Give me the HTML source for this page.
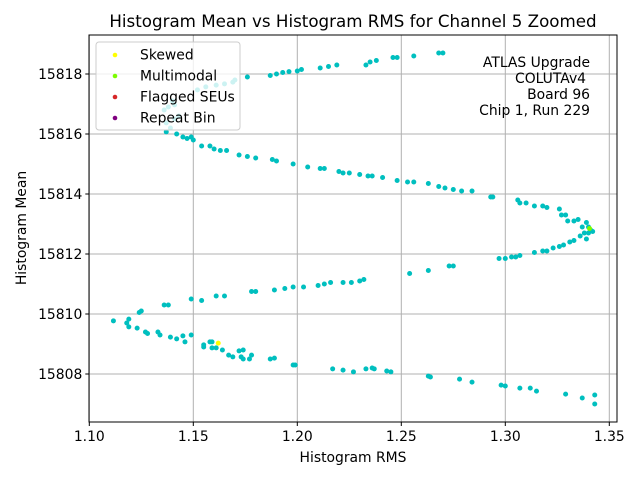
<!DOCTYPE html>
<html><head><meta charset="utf-8"><style>
body{margin:0;background:#fff;}
svg{font-family:"DejaVu Sans","Liberation Sans",sans-serif;}
</style></head><body>
<svg id="chart" width="640" height="480" viewBox="0 0 640 480">
<text x="353" y="27" font-size="16.7" text-anchor="middle">Histogram Mean vs Histogram RMS for Channel 5 Zoomed</text>
<g id="grid"></g>
<g id="points"></g>
<rect x="89" y="35" width="528" height="387" fill="none" stroke="#000" stroke-width="1"/>
<g id="ticks"></g>
<text x="353" y="462" font-size="13.9" text-anchor="middle">Histogram RMS</text>
<text x="26" y="228" font-size="13.9" text-anchor="middle" transform="rotate(-90 26 228)">Histogram Mean</text>
<g>
<rect x="96" y="42" width="144" height="88" rx="3" fill="#fff" fill-opacity="0.8" stroke="#ccc"/>
<g><circle cx="115" cy="55" r="2.3" fill="#ffff00"/><text x="140" y="59.5" font-size="13.9">Skewed</text></g>
<g><circle cx="115" cy="76" r="2.3" fill="#7cfc00"/><text x="140" y="80.5" font-size="13.9">Multimodal</text></g>
<g><circle cx="115" cy="97" r="2.3" fill="#d62728"/><text x="140" y="101.5" font-size="13.9">Flagged SEUs</text></g>
<g><circle cx="115" cy="118" r="2.3" fill="#800080"/><text x="140" y="122.5" font-size="13.9">Repeat Bin</text></g>
</g>
<g font-size="13.9" text-anchor="end">
<text x="590" y="67">ATLAS Upgrade</text>
<text x="586" y="83">COLUTAv4</text>
<text x="590" y="99">Board 96</text>
<text x="590" y="115">Chip 1, Run 229</text>
</g>
</svg>
<script>
const xTicks=[1.10,1.15,1.20,1.25,1.30,1.35];
const yTicks=[15808,15810,15812,15814,15816,15818];
const normalX=[1.169,1.165,1.161,1.156,1.152,1.141,1.138,1.136,1.137,1.137,1.14,1.143,1.139,1.141,
1.17,1.176,1.187,1.19,1.193,1.196,1.2,1.202,1.211,1.215,1.219,1.233,1.235,1.238,1.246,1.248,1.256,1.268,1.27,
1.142,1.145,1.147,1.149,1.15,1.154,1.158,1.16,1.163,1.166,1.172,1.176,1.18,1.188,1.19,1.198,1.205,1.211,1.213,1.22,1.222,1.225,1.23,1.234,1.236,1.241,1.248,1.253,1.256,1.263,1.268,1.271,1.275,1.279,1.284,1.293,1.294,1.306,1.307,1.31,1.314,1.318,1.32,1.326,1.327,1.329,1.33,1.333,1.335,1.337,1.339,1.34,1.341,1.338,1.34,1.342,1.339,
1.336,1.333,1.331,1.328,1.326,1.323,1.32,1.318,1.314,1.307,1.305,1.303,1.297,1.3,1.275,1.273,1.263,1.254,1.232,1.23,1.226,1.222,1.216,1.213,1.21,1.203,1.198,1.194,1.189,1.18,1.178,1.165,1.161,1.154,1.149,1.138,1.136,1.125,1.124,
1.1116,1.118,1.119,1.119,1.123,1.127,1.128,1.133,1.134,1.139,1.142,1.145,1.146,1.149,1.155,1.155,1.158,1.159,1.159,1.161,1.164,1.167,1.169,1.172,1.174,1.173,1.174,1.177,1.178,1.187,1.189,1.198,1.199,1.217,1.222,1.227,
1.233,1.236,1.237,1.243,1.245,1.263,1.264,1.278,1.284,1.298,1.3,1.307,1.312,1.315,1.329,1.337,1.343,1.343];
const normalY=[15817.73,15817.67,15817.63,15817.57,15817.47,15816.97,15816.9,15816.8,15816.37,15816.07,15817.1,15816.6,15816.2,15816.5,
15817.8,15817.9,15817.95,15818.0,15818.05,15818.08,15818.1,15818.15,15818.2,15818.25,15818.3,15818.3,15818.4,15818.45,15818.55,15818.55,15818.6,15818.7,15818.7,
15816.0,15815.9,15815.85,15815.9,15815.8,15815.6,15815.6,15815.5,15815.45,15815.45,15815.3,15815.25,15815.2,15815.15,15815.1,15815.0,15814.9,15814.85,15814.85,15814.75,15814.7,15814.7,15814.65,15814.6,15814.6,15814.55,15814.45,15814.4,15814.4,15814.35,15814.25,15814.2,15814.15,15814.1,15814.1,15813.9,15813.9,15813.8,15813.7,15813.7,15813.6,15813.6,15813.55,15813.5,15813.3,15813.3,15813.1,15813.1,15813.15,15812.9,15813.05,15812.9,15812.8,15812.7,15812.7,15812.75,15812.5,
15812.6,15812.45,15812.4,15812.3,15812.25,15812.2,15812.1,15812.1,15812.05,15811.95,15811.9,15811.9,15811.85,15811.85,15811.6,15811.6,15811.45,15811.35,15811.15,15811.1,15811.05,15811.05,15811.05,15811.0,15810.95,15810.9,15810.9,15810.85,15810.8,15810.75,15810.75,15810.6,15810.6,15810.45,15810.5,15810.3,15810.3,15810.1,15810.05,
15809.77,15809.7,15809.83,15809.57,15809.53,15809.4,15809.35,15809.4,15809.3,15809.23,15809.17,15809.27,15809.07,15809.3,15808.97,15808.9,15809.07,15809.07,15808.87,15808.87,15808.8,15808.63,15808.57,15808.77,15808.8,15808.57,15808.5,15808.5,15808.63,15808.5,15808.53,15808.3,15808.3,15808.17,15808.13,15808.07,
15808.17,15808.2,15808.17,15808.1,15808.07,15807.93,15807.9,15807.83,15807.73,15807.63,15807.6,15807.53,15807.53,15807.43,15807.33,15807.2,15807.3,15807.0];
const skewedX=[1.162], skewedY=[15809.03];
const multiX=[1.3405], multiY=[15812.85];

const X0=89.3,X1=617,Y0=422,Y1=35,xmin=1.10,xmax=1.10+(617-89.3)/2080,ymin=15808-(422-374)/30,ymax=15808+(374-35)/30;
const sx=v=>X0+(v-xmin)/(xmax-xmin)*(X1-X0);
const sy=v=>Y0-(v-ymin)/(ymax-ymin)*(Y0-Y1);
const NS="http://www.w3.org/2000/svg";
const grid=document.getElementById('grid'),ticks=document.getElementById('ticks'),pts=document.getElementById('points');
function mk(tag,attrs,parent){const e=document.createElementNS(NS,tag);for(const k in attrs)e.setAttribute(k,attrs[k]);parent.appendChild(e);return e;}
xTicks.forEach(t=>{const x=sx(t);
 const g=mk('line',{x1:x,x2:x,y1:Y1,y2:Y0,stroke:'#b0b0b0','stroke-width':1},grid);
 
 
 mk('line',{x1:x,x2:x,y1:Y0,y2:Y0+4,stroke:'#000'},ticks);
 const l=mk('text',{x:x,y:Y0+19,'font-size':13.9,'text-anchor':'middle'},ticks);l.textContent=t.toFixed(2);
 
 });
yTicks.forEach(t=>{const y=sy(t);
 const g=mk('line',{x1:X0,x2:X1,y1:y,y2:y,stroke:'#b0b0b0','stroke-width':1},grid);
 
 
 mk('line',{x1:X0-4,x2:X0,y1:y,y2:y,stroke:'#000'},ticks);
 const l=mk('text',{x:X0-7,y:y+5,'font-size':13.9,'text-anchor':'end'},ticks);l.textContent=t;
 
 });
function series(xs,ys,color,name){xs.forEach((v,i)=>{const c=mk('circle',{cx:sx(v),cy:sy(ys[i]),r:2.5,fill:color},pts);
 
 });}
series(normalX,normalY,'#00bfbf','point-normal');
series(skewedX,skewedY,'#ffff00','point-skewed');
series(multiX,multiY,'#7cfc00','point-multimodal');
</script>
</body></html>
